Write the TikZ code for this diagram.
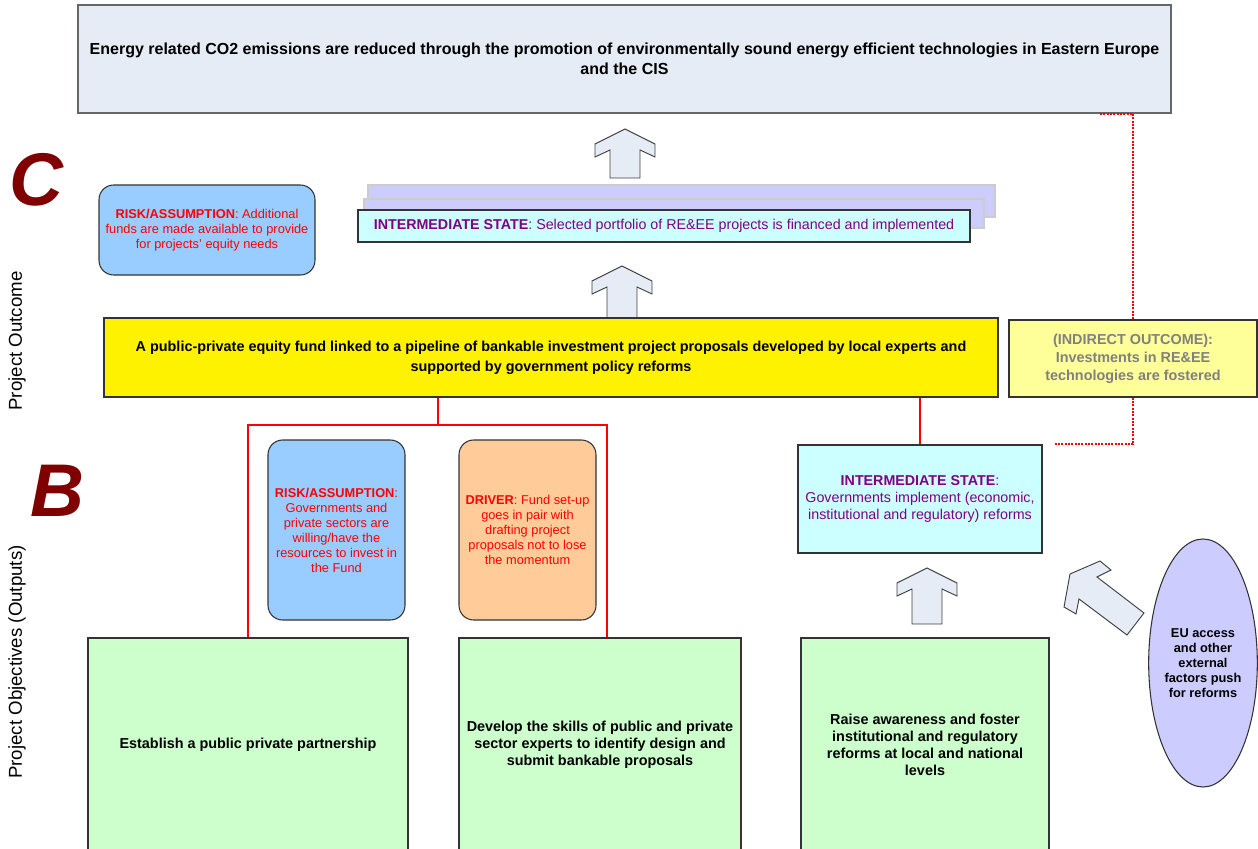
\documentclass[tikz,border=0pt]{standalone}
\usepackage{fontspec}
\setmainfont{Liberation Sans}
\usetikzlibrary{calc,shapes.geometric}

\newcommand{\pxu}{0.75pt}
\definecolor{goalfill}{HTML}{E6ECF6}
\definecolor{statefill}{HTML}{CCFFFF}
\definecolor{stackfill}{HTML}{CCCCFF}
\definecolor{riskfill}{HTML}{99CCFF}
\definecolor{driverfill}{HTML}{FFCC99}
\definecolor{outputfill}{HTML}{CCFFCC}
\definecolor{indirectfill}{HTML}{FFFF99}
\definecolor{darkred}{HTML}{800000}
\definecolor{statetext}{HTML}{800080}

\tikzset{
  bigtext/.style={font=\fontsize{10.8}{15}\selectfont\bfseries},
  redtext/.style={font=\fontsize{9.6}{11.4}\selectfont, text=red},
  box/.style={draw=black!80, line width=0.8pt, align=center, inner sep=0pt},
  goalbox/.style={box, draw=black!60, fill=goalfill, font=\fontsize{12}{15}\selectfont\bfseries},
  statebox/.style={box, fill=statefill, text=statetext,
    font=\fontsize{10.7}{12.8}\selectfont},
  riskbox/.style={box, rounded corners=11pt, fill=riskfill, redtext},
  driverbox/.style={riskbox, fill=driverfill},
  outputbox/.style={box, fill=outputfill, bigtext, font=\fontsize{10.8}{12.8}\selectfont\bfseries},
  blockarrow/.style={draw=black!75, line width=0.7pt, fill=goalfill, line join=miter},
  redline/.style={draw=red, line width=1.5pt},
  reddot/.style={draw=red, line width=1.5pt, densely dotted},
  letter/.style={text=darkred, font=\fontsize{56}{56}\selectfont\bfseries\itshape},
  sidetext/.style={rotate=90, font=\fontsize{14}{16}\selectfont}
}

\begin{document}
\begin{tikzpicture}[x=0.75pt, y=-0.75pt]
  \clip (0,0) rectangle (1258,849);

  % goal
  \node[goalbox, minimum width=1093*\pxu, minimum height=108*\pxu] (goal) at (624.5,59)
    {Energy related CO2 emissions are reduced through the promotion of environmentally sound energy efficient technologies in Eastern Europe\\and the CIS};

  \node[letter] (lettc) at (36,180) {C};
  \node[letter] (lettb) at (57,491) {B};
  \node[sidetext] (outcome) at (17,341) {Project Outcome};
  \node[sidetext] (objectives) at (17,662) {Project Objectives (Outputs)};

  % block arrows
  \foreach \x/\y/\h in {625/129/49, 622/266/52, 927/568/56} {
    \draw[blockarrow] (\x,\y) -- ++(-30,15) -- ++(0,13) -- ++(15,-7) -- ++(0,{\h-21})
      -- ++(30,0) -- ++(0,{21-\h}) -- ++(15,7) -- ++(0,-13) -- cycle;
  }
  \draw[blockarrow] (1070,574) -- (1100,561) -- (1111,570) -- (1097,577) -- (1144,613)
    -- (1127,635) -- (1079,599) -- (1076,614) -- (1064,607) -- cycle;

  % outcome level
  \node[riskbox, minimum width=216*\pxu, minimum height=90*\pxu] (risktop) at (207,230)
    {\textbf{RISK/ASSUMPTION}: Additional\\funds are made available to provide\\for projects' equity needs};

  \filldraw[fill=stackfill, draw=black!20, line width=0.8pt] (368,185) rectangle (995,217);
  \filldraw[fill=stackfill, draw=black!20, line width=0.8pt] (364,199) rectangle (984,228);
  \node[statebox, minimum width=612*\pxu, minimum height=32*\pxu] (portfolio) at (664,226)
    {\textbf{INTERMEDIATE STATE}: Selected portfolio of RE\&EE projects is financed and implemented};

  \node[box, fill=yellow, bigtext, minimum width=894*\pxu, minimum height=79*\pxu] (fund) at (551,357.5)
    {A public-private equity fund linked to a pipeline of bankable investment project proposals developed by local experts and\\supported by government policy reforms};
  \node[box, fill=indirectfill, text=black!50, bigtext, font=\fontsize{10.8}{13.5}\selectfont\bfseries,
    minimum width=248*\pxu, minimum height=77*\pxu] (indirect) at (1133,358.5)
    {(INDIRECT OUTCOME):\\Investments in RE\&EE\\technologies are fostered};

  % output level
  \node[riskbox, font=\fontsize{9.6}{11.25}\selectfont, minimum width=137*\pxu, minimum height=180*\pxu] (riskfund) at (336.5,530)
    {\textbf{RISK/ASSUMPTION}:\\Governments and\\private sectors are\\willing/have the\\resources to invest in\\the Fund};
  \node[driverbox, font=\fontsize{9.6}{11.25}\selectfont, minimum width=137*\pxu, minimum height=180*\pxu] (driver) at (527.5,530)
    {\textbf{DRIVER}: Fund set-up\\goes in pair with\\drafting project\\proposals not to lose\\the momentum};
  \node[statebox, minimum width=244*\pxu, minimum height=108*\pxu] (reforms) at (920,499)
    {\textbf{INTERMEDIATE STATE}:\\Governments implement (economic,\\institutional and regulatory) reforms};

  \node[outputbox, minimum width=320*\pxu, minimum height=214*\pxu] (estab) at (248,745)
    {Establish a public private partnership};
  \node[outputbox, minimum width=282*\pxu, minimum height=214*\pxu] (skills) at (600,745)
    {Develop the skills of public and private\\sector experts to identify design and\\submit bankable proposals};
  \node[outputbox, minimum width=248*\pxu, minimum height=214*\pxu] (awareness) at (925,745)
    {Raise awareness and foster\\institutional and regulatory\\reforms at local and national\\levels};
  \node[ellipse, box, fill=stackfill, font=\fontsize{9.6}{11.25}\selectfont\bfseries,
    minimum width=106*\pxu, minimum height=248*\pxu] (external) at (1203,663)
    {EU access\\and other\\external\\factors push\\for reforms};

  % connectors
  \coordinate (fork) at (438,425);
  \draw[redline] (fund.south -| fork) -- (fork);
  \draw[redline] (estab.north) |- (fork) -| ($(skills.north)+(7,0)$);
  \draw[redline] (fund.south -| reforms.north) -- (reforms.north);
  \draw[reddot] ($(goal.south -| indirect.north)+(-33,0)$) -| (indirect.north);
  \draw[reddot] (indirect.south) |- ($(reforms.north east)+(11,0)$);
\end{tikzpicture}
\end{document}
